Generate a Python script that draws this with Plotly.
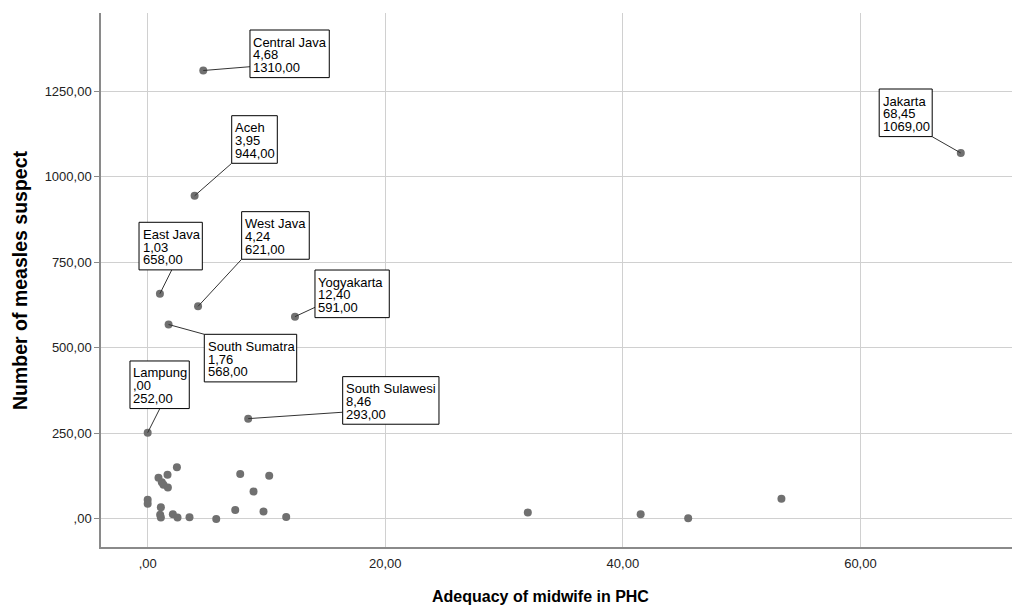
import plotly.graph_objects as go

# ---- data ----
lab_names = ["Central Java", "Aceh", "East Java", "West Java", "Yogyakarta",
             "South Sumatra", "Lampung", "South Sulawesi", "Jakarta"]
lab_x = [4.68, 3.95, 1.03, 4.24, 12.40, 1.76, 0.00, 8.46, 68.45]
lab_y = [1310, 944, 658, 621, 591, 568, 252, 293, 1069]

oth_x = [2.46, 0.91, 1.67, 1.19, 1.70, 1.33, 0.00, 0.00, 1.11, 1.05, 1.11, 2.12,
         2.51, 3.52, 5.77, 7.37, 7.79, 8.91, 9.75, 10.23, 11.66, 32.0, 41.5,
         45.5, 53.35]
oth_y = [151, 120, 129, 107, 92, 100, 56, 44, 34, 12, 4, 14,
         4, 5, 0, 26, 131, 80, 22, 126, 6, 19, 14,
         2, 59]

x_ticks = [0, 20, 40, 60]
x_tick_text = [",00", "20,00", "40,00", "60,00"]
y_ticks = [0, 250, 500, 750, 1000, 1250]
y_tick_text = [",00", "250,00", "500,00", "750,00", "1000,00", "1250,00"]

x_title = "Adequacy of midwife in PHC"
y_title = "Number of measles suspect"

# ---- label layout (screen pixels relative to the point; +dy = down) ----
box_dx = [46.7, 37.1, -20.9, 43.6, 20.0, 35.7, -17.7, 94.5, -81.6]
box_dy = [-40.5, -80.1, -71.4, -94.7, -46.6, 9.8, -71.7, -42.0, -64.0]
box_w = [79.3, 45.6, 63.3, 67.6, 74.3, 92.4, 59.3, 96.3, 53.0]
lead_dx = [46.7, 37.1, 11.8, 43.6, 20.0, 35.7, 12.3, 94.5, -28.6]
lead_dy = [-3.8, -32.5, -23.7, -47.1, -9.3, 9.8, -24.4, -6.4, -16.3]
BOX_H = 47.6
LINE_OFF = [12.0, 24.8, 37.6]


def spss(v):
    s = f"{v:.2f}".replace(".", ",")
    if s.startswith("0,"):
        s = s[1:]
    return s


all_x = lab_x + oth_x
all_y = lab_y + oth_y

fig = go.Figure()
fig.add_trace(go.Scatter(
    x=all_x, y=all_y, mode="markers",
    marker=dict(size=8, color="#707070"),
    hoverinfo="skip", showlegend=False,
))

shapes = []
annotations = []
font_lab = dict(family="Liberation Sans, Arial, sans-serif", size=13, color="#000000")
for i, name in enumerate(lab_names):
    px, py = lab_x[i], lab_y[i]
    shapes.append(dict(
        type="line", xref="x", yref="y", xsizemode="pixel", ysizemode="pixel",
        xanchor=px, yanchor=py, x0=0, y0=0, x1=lead_dx[i], y1=-lead_dy[i],
        line=dict(color="#333333", width=1), layer="above",
    ))
for i, name in enumerate(lab_names):
    px, py = lab_x[i], lab_y[i]
    shapes.append(dict(
        type="rect", xref="x", yref="y", xsizemode="pixel", ysizemode="pixel",
        xanchor=px, yanchor=py,
        x0=box_dx[i], x1=box_dx[i] + box_w[i],
        y0=-box_dy[i], y1=-(box_dy[i] + BOX_H),
        line=dict(color="#000000", width=1), fillcolor="#ffffff", layer="above",
    ))
    lines = [name, spss(lab_x[i]), spss(lab_y[i])]
    for k, t in enumerate(lines):
        annotations.append(dict(
            x=px, y=py, xref="x", yref="y", text=t, showarrow=False,
            xanchor="left", yanchor="middle",
            xshift=box_dx[i] + 2.5, yshift=-(box_dy[i] + LINE_OFF[k]),
            font=font_lab, borderpad=0,
        ))

annotations.append(dict(
    text=f"<b>{x_title}</b>", xref="paper", yref="paper", x=0.4819, y=-0.0918,
    xanchor="center", yanchor="middle", showarrow=False,
    font=dict(family="Liberation Sans, Arial, sans-serif", size=16, color="#000000"),
))
annotations.append(dict(
    text=f"<b>{y_title}</b>", xref="paper", yref="paper", x=-0.0889, y=0.5,
    xanchor="center", yanchor="middle", showarrow=False, textangle=-90,
    font=dict(family="Liberation Sans, Arial, sans-serif", size=19.5, color="#000000"),
))

tick_font = dict(family="Liberation Sans, Arial, sans-serif", size=13, color="#222222")
fig.update_layout(
    width=1012, height=606, autosize=False,
    margin=dict(l=101, r=0, t=13, b=59),
    paper_bgcolor="#ffffff", plot_bgcolor="#ffffff",
    shapes=shapes, annotations=annotations,
    xaxis=dict(
        range=[-3.93, 72.76], tickvals=x_ticks, ticktext=x_tick_text,
        showgrid=True, gridcolor="#d0d0d0", gridwidth=1, zeroline=False,
        showline=True, linecolor="#8a8a8a", linewidth=1.5,
        ticks="outside", ticklen=4, tickcolor="rgba(0,0,0,0)",
        tickfont=tick_font,
    ),
    yaxis=dict(
        range=[-82, 1478], tickvals=y_ticks, ticktext=y_tick_text,
        showgrid=True, gridcolor="#d0d0d0", gridwidth=1, zeroline=False,
        showline=True, linecolor="#8a8a8a", linewidth=1.5,
        ticks="outside", ticklen=5, tickcolor="#8a8a8a",
        tickfont=tick_font,
    ),
)

# remove the page's default 8px body margin so the 1012x606 figure fills the window
fig.write_html(
    "out.html",
    config={"displayModeBar": False},
    post_script="document.body.style.margin='0';document.body.style.overflow='hidden';",
)
